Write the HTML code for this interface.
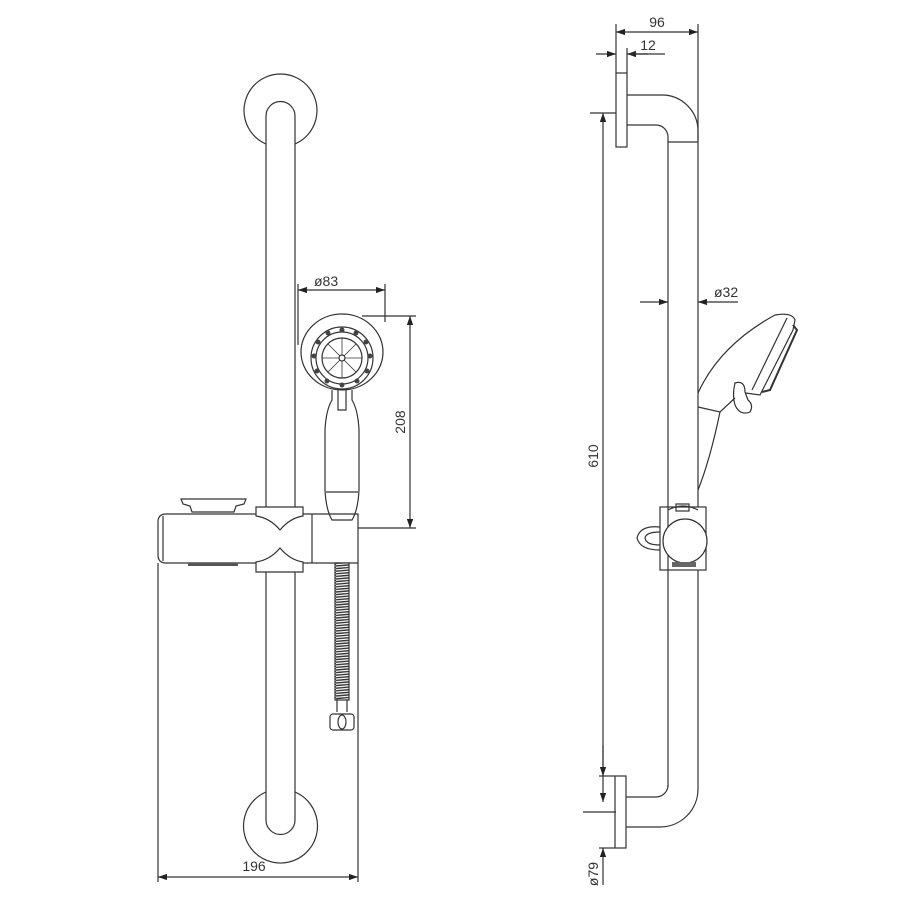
<!DOCTYPE html>
<html><head><meta charset="utf-8"><style>
html,body{margin:0;padding:0;background:#fff;}
svg{display:block;}
text{font-family:"Liberation Sans",sans-serif;font-size:14px;fill:#333;}
</style></head><body>
<svg width="900" height="900" viewBox="0 0 900 900" xmlns="http://www.w3.org/2000/svg">
<defs>
<marker id="a" viewBox="0 0 10 10" refX="10" refY="5" markerWidth="9" markerHeight="9" orient="auto-start-reverse" markerUnits="userSpaceOnUse"><path d="M0,1.5 L10,5 L0,8.5z" fill="#222"/></marker>
<pattern id="hp" width="14" height="2.6" patternUnits="userSpaceOnUse"><rect width="14" height="2.6" fill="#fff"/><line x1="0" y1="1.8" x2="14" y2="0.6" stroke="#333" stroke-width="1.4"/></pattern>
</defs>
<g fill="none" stroke="#333" stroke-width="1.2">
<path d="M266,144 A36.5,36.5 0 1 1 295,144"/>
<path d="M266,508 L266,116 A14.5,14.5 0 0 1 295,116 L295,508"/>
<path d="M266,792 A37,37 0 1 0 295,792"/>
<path d="M266,572 L266,820 A14.5,14.5 0 0 0 295,820 L295,572"/>
<path d="M166,514 L358,514 L358,563 L166,563 Q158,563 158,555 L158,522 Q158,514 166,514z" fill="#fff"/>
<line x1="163" y1="516" x2="163" y2="561"/>
<line x1="312" y1="514" x2="312" y2="563"/>
<path d="M256,507 L303,507 L303,516 Q290,518 280,530 Q270,518 256,516z" fill="#fff"/>
<path d="M256,572 L303,572 L303,562 Q290,560 280,548 Q270,560 256,562z" fill="#fff"/>
<path d="M181,499 L246,499 L244,504 L236,506 L234,512 L192,512 L190,506 L183,504z"/>
<rect x="188" y="563" width="50" height="3" fill="#555" stroke="none"/>
<ellipse cx="342" cy="352" rx="41" ry="38" fill="#fff"/>
<circle cx="342" cy="358" r="31"/>
<circle cx="342" cy="358" r="26"/>
<circle cx="342" cy="358" r="20"/>
<path d="M322,358 L362,358 M342,338 L342,378 M328,344 L356,372 M356,344 L328,372" stroke-width="0.8"/>
<circle cx="342" cy="358" r="3" fill="#fff"/>
<g fill="#444" stroke="none">
<circle cx="342" cy="330" r="2.5"/><circle cx="356" cy="333" r="2.5"/><circle cx="366" cy="342" r="2.5"/><circle cx="370" cy="356" r="2.5"/><circle cx="367" cy="371" r="2.5"/><circle cx="357" cy="381" r="2.5"/><circle cx="342" cy="385" r="2.5"/><circle cx="327" cy="381" r="2.5"/><circle cx="317" cy="371" r="2.5"/><circle cx="314" cy="356" r="2.5"/><circle cx="318" cy="342" r="2.5"/><circle cx="328" cy="333" r="2.5"/>
</g>
<path d="M332,390 L332,400 Q326,410 325,430 L325,490 Q326,510 332,520 L352,520 Q358,510 359,490 L359,430 Q358,410 352,400 L352,390"/>
<path d="M338,390 L338,410 L346,410 L346,390"/>
<line x1="326" y1="492" x2="358" y2="492"/>
<rect x="335" y="563" width="14" height="137" fill="url(#hp)" stroke="#333"/>
<path d="M337,700 L337,712 M347,700 L347,712"/>
<rect x="330" y="714" width="24" height="16" rx="3"/>
<ellipse cx="342" cy="722" rx="4" ry="7"/>
<line x1="298" y1="284" x2="298" y2="345"/>
<line x1="385" y1="284" x2="385" y2="322"/>
<line x1="298" y1="290" x2="385" y2="290" marker-start="url(#a)" marker-end="url(#a)"/>
<line x1="362" y1="316" x2="416" y2="316"/>
<line x1="358" y1="528" x2="416" y2="528"/>
<line x1="410" y1="316" x2="410" y2="528" marker-start="url(#a)" marker-end="url(#a)"/>
<line x1="158" y1="563" x2="158" y2="882"/>
<line x1="358" y1="563" x2="358" y2="882"/>
<line x1="158" y1="877" x2="358" y2="877" marker-start="url(#a)" marker-end="url(#a)"/>

<rect x="616" y="73" width="11" height="74" fill="#fff"/>
<path d="M627,95 L662,95 A36,36 0 0 1 698,131 L698,775"/>
<path d="M627,125 L656,125 A12,12 0 0 1 668,137 L668,787"/>
<line x1="668" y1="142" x2="698" y2="142"/>
<rect x="615" y="776" width="11" height="72" fill="#fff"/>
<path d="M626,797 L656,797 A12,12 0 0 0 668,785"/>
<path d="M626,827 L660,827 A38,38 0 0 0 698,789 L698,775"/>
<line x1="616" y1="24" x2="616" y2="73"/>
<line x1="698" y1="24" x2="698" y2="140"/>
<line x1="616" y1="32" x2="698" y2="32" marker-start="url(#a)" marker-end="url(#a)"/>
<line x1="627" y1="48" x2="627" y2="73"/>
<line x1="596" y1="54" x2="616" y2="54" marker-end="url(#a)"/>
<line x1="648" y1="54" x2="627" y2="54" marker-end="url(#a)"/>
<line x1="627" y1="54" x2="665" y2="54"/>
<line x1="590" y1="113" x2="616" y2="113"/>
<line x1="603" y1="113" x2="603" y2="802" marker-start="url(#a)" marker-end="url(#a)"/>
<line x1="583" y1="812" x2="616" y2="812"/>
<line x1="599" y1="776" x2="615" y2="776"/>
<line x1="599" y1="848" x2="615" y2="848"/>
<line x1="603" y1="745" x2="603" y2="776" marker-end="url(#a)"/>
<line x1="603" y1="885" x2="603" y2="848" marker-end="url(#a)"/>
<line x1="640" y1="302" x2="668" y2="302" marker-end="url(#a)"/>
<line x1="738" y1="302" x2="698" y2="302" marker-end="url(#a)"/>
<path d="M698,393 Q720,345 775,315 Q792,312 795,320 L793,330 L760,395 L738,392"/>
<path d="M787,318 L752,390"/>
<path d="M793,325 L797,330 L770,390 L762,392" stroke-width="2"/>
<path d="M735,383 Q745,380 745,392 L748,400 Q754,405 750,412 Q740,416 735,405 Q732,395 735,383z" fill="#fff"/>
<path d="M698,407 L720,412 L735,398"/>
<path d="M720,412 Q710,460 698,490"/>
<rect x="660" y="507" width="46" height="63" fill="#fff"/>
<line x1="668" y1="507" x2="668" y2="570"/>
<path d="M668,510 Q683,502 698,510" />
<rect x="676" y="504" width="13" height="7"/>
<path d="M660,527 Q640,525 637,538 Q640,550 660,550"/>
<path d="M660,532 Q646,532 645,538 Q646,545 660,545"/>
<circle cx="685" cy="541" r="22" fill="#fff"/>
<rect x="672" y="562" width="24" height="5" fill="#666" stroke="none"/>
</g>
<text x="314" y="286">ø83</text>
<text x="405" y="422" transform="rotate(-90 405 422)" text-anchor="middle">208</text>
<text x="254" y="871" text-anchor="middle">196</text>
<text x="657" y="27" text-anchor="middle">96</text>
<text x="648" y="50" text-anchor="middle">12</text>
<text x="714" y="297">ø32</text>
<text x="598" y="456" transform="rotate(-90 598 456)" text-anchor="middle">610</text>
<text x="598" y="874" transform="rotate(-90 598 874)" text-anchor="middle">ø79</text>
</svg>
</body></html>
